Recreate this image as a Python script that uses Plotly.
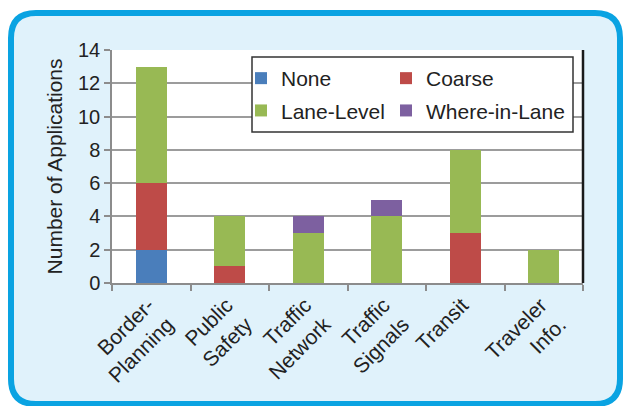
import plotly.graph_objects as go

categories = ["Border-<br>Planning", "Public<br>Safety", "Traffic<br>Network",
              "Traffic<br>Signals", "Transit", "Traveler<br>Info."]
none_vals = [2, 0, 0, 0, 0, 0]
coarse_vals = [4, 1, 0, 0, 3, 0]
lane_vals = [7, 3, 3, 4, 5, 2]
where_vals = [0, 0, 1, 1, 0, 0]
y_ticks = [0, 2, 4, 6, 8, 10, 12, 14]

series = [
    ("None", none_vals, "#4a7ebb", "legend"),
    ("Coarse", coarse_vals, "#be4b48", "legend2"),
    ("Lane-Level", lane_vals, "#98b954", "legend"),
    ("Where-in-Lane", where_vals, "#7d60a0", "legend2"),
]

W, H = 623, 406
L, R, T, B = 112, 40, 50, 123
pw, ph = W - L - R, H - T - B

def px(x):
    return (x - L) / pw

def py(y):
    return (H - B - y) / ph

fig = go.Figure()
for name, vals, color, leg in series:
    fig.add_trace(go.Bar(x=categories, y=vals, name=name, legend=leg, legendgroup=name,
                         marker=dict(color=color, line=dict(width=0))))

# rounded frame
x0, x1, y0, y1, r = 11, 620, 13, 404, 25
path = (f"M {px(x0+r)},{py(y0)} L {px(x1-r)},{py(y0)} "
        f"Q {px(x1)},{py(y0)} {px(x1)},{py(y0+r)} "
        f"L {px(x1)},{py(y1-r)} Q {px(x1)},{py(y1)} {px(x1-r)},{py(y1)} "
        f"L {px(x0+r)},{py(y1)} Q {px(x0)},{py(y1)} {px(x0)},{py(y1-r)} "
        f"L {px(x0)},{py(y0+r)} Q {px(x0)},{py(y0)} {px(x0+r)},{py(y0)} Z")
shapes = [
    dict(type="path", xref="paper", yref="paper", path=path,
         fillcolor="#e0f2fb", line=dict(color="#0aa3e2", width=6), layer="below"),
    dict(type="rect", xref="paper", yref="paper", x0=0, x1=1, y0=0, y1=1,
         fillcolor="white", line=dict(width=0), layer="below"),
    dict(type="line", xref="paper", yref="paper", x0=1, x1=1, y0=0, y1=1,
         line=dict(color="#1a1a1a", width=2.5)),
    # legend frame
    dict(type="rect", xref="paper", yref="paper", x0=px(252), x1=px(573),
         y0=py(132), y1=py(57), fillcolor="white",
         line=dict(color="#333333", width=1.5), layer="above"),
]

font_family = "Liberation Sans, Arial, sans-serif"
leg_common = dict(orientation="v", xanchor="left", yanchor="top",
                  bgcolor="rgba(0,0,0,0)", borderwidth=0,
                  font=dict(size=21, color="#222222"),
                  traceorder="grouped", tracegroupgap=2)
fig.update_layout(
    width=W, height=H,
    margin=dict(l=L, r=R, t=T, b=B),
    barmode="stack", bargap=0.6,
    paper_bgcolor="white", plot_bgcolor="white",
    font=dict(family=font_family, size=20, color="#222222"),
    shapes=shapes,
    showlegend=True,
    legend=dict(x=px(241), y=py(58), **leg_common),
    legend2=dict(x=px(386), y=py(58), **leg_common),
    xaxis=dict(tickangle=-45, showline=True, linecolor="#8c8c8c", linewidth=1.5,
               ticks="outside", tickson="boundaries", ticklen=6, tickcolor="#8c8c8c",
               tickwidth=1.5, tickfont=dict(size=21, color="#222222"), showgrid=False,
               ticklabelshift=-3),
    yaxis=dict(range=[0, 14], tickvals=y_ticks, showline=True, linecolor="#8c8c8c",
               linewidth=1.5, ticks="outside", ticklen=6, tickcolor="#8c8c8c", tickwidth=1.5,
               gridcolor="#9c9c9c", gridwidth=2, zeroline=False,
               tickfont=dict(size=20, color="#222222"),
               title=dict(text="Number of Applications", font=dict(size=21, color="#222222"),
                          standoff=10)),
)

fig.write_html("out.html")
